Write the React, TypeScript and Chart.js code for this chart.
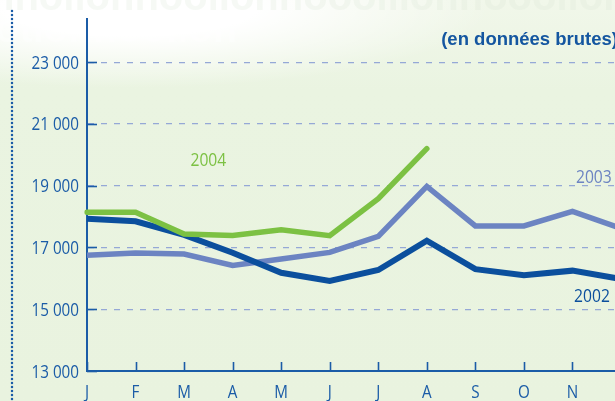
import React, { useEffect, useRef } from "react";
import { Chart, registerables } from "chart.js";

Chart.register(...registerables);

const months = ["J", "F", "M", "A", "M", "J", "J", "A", "S", "O", "N", "D"];
const yTickValues = [13000, 15000, 17000, 19000, 21000, 23000];
const yTickLabels = ["13 000", "15 000", "17 000", "19 000", "21 000", "23 000"];
const series2002 = [17930, 17850, 17410, 16830, 16180, 15920, 16270, 17220, 16300, 16100, 16250, 15980];
const series2003 = [16750, 16820, 16790, 16420, 16630, 16840, 17360, 18980, 17700, 17700, 18170, 17620];
const series2004 = [18140, 18140, 17440, 17390, 17570, 17380, 18580, 20200];
const seriesNames = ["2002", "2003", "2004"];
const noteText = "(en données brutes)";

const AXIS_BLUE = "#1b5ca7";
const C2002 = "#0b4f9d";
const C2003 = "#6c84c2";
const C2004 = "#7cc143";
const FONT = "'Open Sans', 'Noto Sans', sans-serif";
const SQUEEZE = 0.87;

// annotation anchors (category index, value) for series names
const nameAnchors = [
  { idx: 10.77, val: 15430, align: "right", color: C2002 },
  { idx: 10.81, val: 19290, align: "right", color: C2003 },
  { idx: 2.5, val: 19840, align: "center", color: C2004 },
];

function drawCondensed(ctx: CanvasRenderingContext2D, text: string, x: number, y: number, align: string, size: number, color: string) {
  ctx.save();
  ctx.font = `${size}px ${FONT}`;
  ctx.fillStyle = color;
  ctx.textBaseline = "alphabetic";
  ctx.textAlign = align as CanvasTextAlign;
  ctx.translate(x, y);
  ctx.scale(SQUEEZE, 1);
  ctx.fillText(text, 0, 0);
  ctx.restore();
}

const decorPlugin = {
  id: "decor",
  beforeDraw(chart: any) {
    const ctx = chart.ctx;
    ctx.save();
    // faint watermark text
    ctx.font = "bold 40px 'Liberation Sans', sans-serif";
    ctx.fillStyle = "rgba(215,226,210,0.22)";
    ctx.textBaseline = "alphabetic";
    ctx.fillText("nnolionnoolionnooollionnooolionnoo", -10, 10);
    ctx.fillStyle = "rgba(255,255,255,0.35)";
    ctx.fillText("otionnoolion", -5, 42);
    // dotted vertical line
    ctx.fillStyle = AXIS_BLUE;
    for (let y = 11; y < 401; y += 4) {
      ctx.beginPath();
      ctx.arc(12, y, 1.25, 0, Math.PI * 2);
      ctx.fill();
    }
    ctx.restore();
  },
  afterDraw(chart: any) {
    const ctx = chart.ctx;
    const xs = chart.scales.x;
    const ys = chart.scales.y;
    const area = chart.chartArea;
    ctx.save();
    ctx.strokeStyle = AXIS_BLUE;
    ctx.lineWidth = 1.6;
    // y inner ticks + labels
    yTickValues.forEach((v, i) => {
      const py = ys.getPixelForValue(v);
      const y = Math.round(py) + 0.5;
      ctx.beginPath();
      ctx.moveTo(area.left, y);
      ctx.lineTo(area.left + 10, y);
      ctx.stroke();
      drawCondensed(ctx, yTickLabels[i], area.left - 8, py + 6.5, "right", 17.5, AXIS_BLUE);
    });
    // x inner ticks + labels
    months.forEach((m, i) => {
      const px = xs.getPixelForValue(i);
      const x = Math.round(px) + 0.5;
      ctx.beginPath();
      ctx.moveTo(x, area.bottom);
      ctx.lineTo(x, area.bottom - 9);
      ctx.stroke();
      drawCondensed(ctx, m, px, area.bottom + 26.5, "center", 17.5, AXIS_BLUE);
    });
    // series names
    const step = xs.getPixelForValue(1) - xs.getPixelForValue(0);
    nameAnchors.forEach((a, i) => {
      const x = area.left + step * a.idx;
      drawCondensed(ctx, seriesNames[i], x, ys.getPixelForValue(a.val) + 6.5, a.align, 18, a.color);
    });
    // note
    ctx.font = "bold 18.5px 'Liberation Sans', Arial, sans-serif";
    ctx.fillStyle = "#1456a0";
    ctx.textAlign = "right";
    ctx.textBaseline = "alphabetic";
    ctx.fillText(noteText, 618, 45);
    ctx.restore();
  },
};

export default function App() {
  const ref = useRef<HTMLCanvasElement | null>(null);
  useEffect(() => {
    if (!ref.current) return;
    const chart = new Chart(ref.current, {
      type: "line",
      data: {
        labels: months,
        datasets: [
          {
            label: "2004",
            data: series2004,
            borderColor: C2004,
            borderWidth: 5.5,
            pointRadius: 0,
            tension: 0,
            borderJoinStyle: "miter",
            borderCapStyle: "round",
          },
          {
            label: "2002",
            data: series2002,
            borderColor: C2002,
            borderWidth: 6,
            pointRadius: 0,
            tension: 0,
            borderJoinStyle: "miter",
          },
          {
            label: "2003",
            data: series2003,
            borderColor: C2003,
            borderWidth: 5.5,
            pointRadius: 0,
            tension: 0,
            borderJoinStyle: "miter",
          },
        ],
      },
      options: {
        responsive: false,
        animation: false,
        devicePixelRatio: 1,
        layout: { padding: { top: 19, right: 19, left: 0, bottom: 0 } },
        plugins: { legend: { display: false }, tooltip: { enabled: false }, title: { display: false } },
        scales: {
          x: {
            type: "category",
            offset: false,
            afterFit: (s: any) => {
              s.height = 30;
            },
            grid: { display: false, drawTicks: false },
            border: { display: true, color: AXIS_BLUE, width: 2 },
            ticks: { display: false, autoSkip: false },
          },
          y: {
            min: 13000,
            max: 24400,
            afterBuildTicks: (s: any) => {
              s.ticks = yTickValues.map((value) => ({ value }));
            },
            afterFit: (s: any) => {
              s.width = 87;
            },
            grid: {
              drawTicks: false,
              color: (c: any) => (c.tick && c.tick.value === 13000 ? "rgba(0,0,0,0)" : "#95a8d6"),
              lineWidth: 1.3,
            },
            border: { display: true, color: AXIS_BLUE, width: 2, dash: [6, 7] },
            ticks: { display: false },
          },
        },
      },
      plugins: [decorPlugin],
    });
    return () => chart.destroy();
  }, []);

  return (
    <div
      style={{
        position: "absolute",
        left: 0,
        top: 0,
        width: 615,
        height: 401,
        overflow: "hidden",
        background:
          "radial-gradient(ellipse 360px 80px at 130px 8px, #ffffff 35%, rgba(255,255,255,0) 100%), linear-gradient(180deg, #f1f7ea 0px, #eaf4e1 90px, #e9f3df 401px)",
      }}
    >
      <canvas ref={ref} width={640} height={401} style={{ display: "block", width: 640, height: 401 }} />
    </div>
  );
}
